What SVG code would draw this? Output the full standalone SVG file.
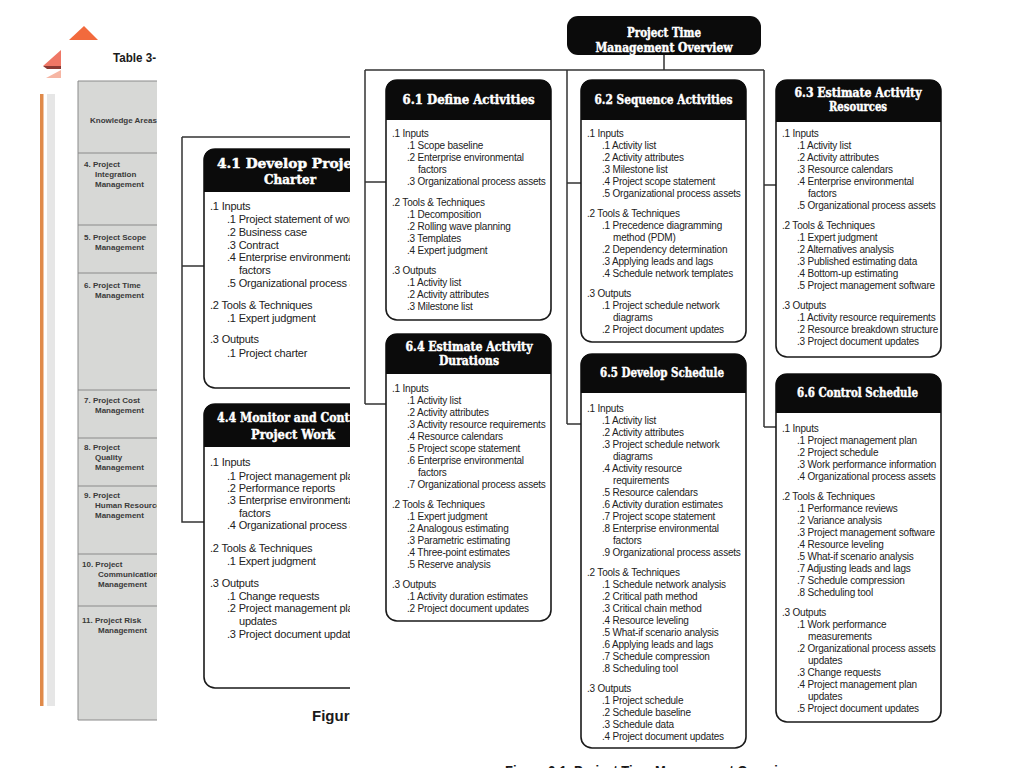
<svg xmlns="http://www.w3.org/2000/svg" width="1024" height="768" viewBox="0 0 1024 768">
<defs>
<style>
.bx{fill:#fff;stroke:#1a1a1a;stroke-width:1.6}
.hd{fill:#0b0b0b}
.ht{font-family:"DejaVu Serif","Liberation Serif",serif;font-weight:bold;font-size:12px;fill:#fff;stroke:#fff;stroke-width:0.45;text-anchor:middle}
.ht2{font-family:"DejaVu Serif","Liberation Serif",serif;font-weight:bold;font-size:13px;fill:#fff;stroke:#fff;stroke-width:0.45;text-anchor:middle}
.b{font-family:"Liberation Sans",Arial,sans-serif;font-size:10px;letter-spacing:-0.2px;fill:#222}
.b2{font-family:"Liberation Sans",Arial,sans-serif;font-size:11px;letter-spacing:-0.2px;fill:#222}
.c{stroke:#333;stroke-width:1.5;fill:none}
.tb{font-family:"Liberation Sans",Arial,sans-serif;font-weight:bold;font-size:8px;fill:#3a3a3a}
.cell{fill:#d7d8d6}
.sep{stroke:#8a8a8a;stroke-width:1}
.cap{font-family:"Liberation Sans",Arial,sans-serif;font-weight:bold;fill:#1a1a1a}
</style>
<clipPath id="clipT"><rect x="0" y="0" width="157" height="768"/></clipPath>
<clipPath id="clipL2"><rect x="157" y="0" width="193" height="768"/></clipPath>
</defs>
<rect width="1024" height="768" fill="#fff"/>

<!-- background layer 1: table -->
<g id="layer-table">
<polygon points="69,40 98,40 84,26" fill="#f26a3d"/>
<polygon points="43,66 61,50 61,66" fill="#ef7766"/>
<polygon points="43,66 61,66 61,69 47,69" fill="#8a3a34"/>
<polygon points="46,78 61,70 61,78" fill="#f6b6a4"/>
<rect x="40" y="94" width="3.5" height="612" fill="#e08a4a"/>
<rect x="47" y="94" width="8" height="612" fill="#e6e6e6"/>
<text x="113" y="62" class="cap" font-size="12.5" textLength="43" lengthAdjust="spacingAndGlyphs">Table 3-</text>
<g clip-path="url(#clipT)">
<rect x="78" y="81" width="90" height="639" class="cell"/>
<line x1="78" y1="81" x2="78" y2="720" class="sep"/>
<line x1="78" y1="81" x2="168" y2="81" class="sep"/>
<line x1="78" y1="153" x2="168" y2="153" class="sep"/>
<line x1="78" y1="225" x2="168" y2="225" class="sep"/>
<line x1="78" y1="273" x2="168" y2="273" class="sep"/>
<line x1="78" y1="390" x2="168" y2="390" class="sep"/>
<line x1="78" y1="438" x2="168" y2="438" class="sep"/>
<line x1="78" y1="486" x2="168" y2="486" class="sep"/>
<line x1="78" y1="554" x2="168" y2="554" class="sep"/>
<line x1="78" y1="606" x2="168" y2="606" class="sep"/>
<line x1="78" y1="720" x2="168" y2="720" class="sep"/>
<text class="tb" x="90" y="123">Knowledge Areas</text>
<text class="tb" x="84" y="167">4. Project</text>
<text class="tb" x="95" y="177">Integration</text>
<text class="tb" x="95" y="187">Management</text>
<text class="tb" x="84" y="240">5. Project Scope</text>
<text class="tb" x="95" y="250">Management</text>
<text class="tb" x="84" y="288">6. Project Time</text>
<text class="tb" x="95" y="298">Management</text>
<text class="tb" x="84" y="403">7. Project Cost</text>
<text class="tb" x="95" y="413">Management</text>
<text class="tb" x="84" y="450">8. Project</text>
<text class="tb" x="95" y="460">Quality</text>
<text class="tb" x="95" y="470">Management</text>
<text class="tb" x="84" y="498">9. Project</text>
<text class="tb" x="95" y="508">Human Resource</text>
<text class="tb" x="95" y="518">Management</text>
<text class="tb" x="82" y="567">10. Project</text>
<text class="tb" x="98" y="577">Communication</text>
<text class="tb" x="98" y="587">Management</text>
<text class="tb" x="82" y="623">11. Project Risk</text>
<text class="tb" x="98" y="633">Management</text>
</g>
</g>

<!-- layer 2: integration management -->
<g clip-path="url(#clipL2)">
<g id="connectors-integration">
<path class="c" d="M182,137 H360 M182,137 V522 H204 M182,266 H204"/>
</g>
<g id="n41">
<rect class="bx" x="204" y="149" width="176" height="239" rx="11"/>
<path class="hd" d="M204,192 V160 Q204,149 215,149 H369 Q380,149 380,160 V192 Z"/>
<text class="ht2" x="292" y="168" textLength="150" lengthAdjust="spacingAndGlyphs">4.1 Develop Project</text>
<text class="ht2" x="290" y="184" textLength="52" lengthAdjust="spacingAndGlyphs">Charter</text>
<text class="b2" x="210" y="210">.1 Inputs</text>
<text class="b2" x="227" y="223">.1 Project statement of work</text>
<text class="b2" x="227" y="236">.2 Business case</text>
<text class="b2" x="227" y="249">.3 Contract</text>
<text class="b2" x="227" y="261">.4 Enterprise environmental</text>
<text class="b2" x="239" y="274">factors</text>
<text class="b2" x="227" y="287">.5 Organizational process assets</text>
<text class="b2" x="210" y="309">.2 Tools &amp; Techniques</text>
<text class="b2" x="227" y="322">.1 Expert judgment</text>
<text class="b2" x="210" y="343">.3 Outputs</text>
<text class="b2" x="227" y="357">.1 Project charter</text>
</g>
<g id="n44">
<rect class="bx" x="204" y="404" width="176" height="284" rx="11"/>
<path class="hd" d="M204,447 V415 Q204,404 215,404 H369 Q380,404 380,415 V447 Z"/>
<text class="ht2" x="292" y="422" textLength="150" lengthAdjust="spacingAndGlyphs">4.4 Monitor and Control</text>
<text class="ht2" x="293" y="439" textLength="84" lengthAdjust="spacingAndGlyphs">Project Work</text>
<text class="b2" x="210" y="466">.1 Inputs</text>
<text class="b2" x="227" y="480">.1 Project management plan</text>
<text class="b2" x="227" y="492">.2 Performance reports</text>
<text class="b2" x="227" y="504">.3 Enterprise environmental</text>
<text class="b2" x="239" y="517">factors</text>
<text class="b2" x="227" y="529">.4 Organizational process assets</text>
<text class="b2" x="210" y="552">.2 Tools &amp; Techniques</text>
<text class="b2" x="227" y="565">.1 Expert judgment</text>
<text class="b2" x="210" y="587">.3 Outputs</text>
<text class="b2" x="227" y="600">.1 Change requests</text>
<text class="b2" x="227" y="612">.2 Project management plan</text>
<text class="b2" x="239" y="625">updates</text>
<text class="b2" x="227" y="638">.3 Project document updates</text>
</g>
<text class="cap" x="312" y="721" font-size="15">Figure 4-1. Project Integration Management Overview</text>
</g>

<!-- main layer: time management -->
<g id="connectors">
<path class="c" d="M664,55 V70 M365,70 H764 M365,70 V404 M365,182 H386 M365,404 H386 M567,70 V424 M567,183 H581 M567,424 H581 M764,70 V427 M764,185 H776 M764,427 H776"/>
</g>

<g id="title">
<rect x="567" y="16" width="194" height="39" rx="11" fill="#0b0b0b"/>
<text class="ht" x="664" y="37" textLength="74" lengthAdjust="spacingAndGlyphs">Project Time</text>
<text class="ht" x="664" y="52" textLength="137" lengthAdjust="spacingAndGlyphs">Management Overview</text>
</g>

<g id="n61">
<rect class="bx" x="386" y="80" width="165" height="240" rx="11"/>
<path class="hd" d="M386,120 V91 Q386,80 397,80 H540 Q551,80 551,91 V120 Z"/>
<text class="ht" x="468.5" y="104" textLength="132" lengthAdjust="spacingAndGlyphs">6.1 Define Activities</text>
<text class="b" x="392" y="137">.1 Inputs</text>
<text class="b" x="407" y="149">.1 Scope baseline</text>
<text class="b" x="407" y="161">.2 Enterprise environmental</text>
<text class="b" x="418" y="173">factors</text>
<text class="b" x="407" y="185">.3 Organizational process assets</text>
<text class="b" x="392" y="206">.2 Tools &amp; Techniques</text>
<text class="b" x="407" y="218">.1 Decomposition</text>
<text class="b" x="407" y="230">.2 Rolling wave planning</text>
<text class="b" x="407" y="242">.3 Templates</text>
<text class="b" x="407" y="254">.4 Expert judgment</text>
<text class="b" x="392" y="274">.3 Outputs</text>
<text class="b" x="407" y="286">.1 Activity list</text>
<text class="b" x="407" y="298">.2 Activity attributes</text>
<text class="b" x="407" y="310">.3 Milestone list</text>
</g>

<g id="n62">
<rect class="bx" x="581" y="80" width="165" height="262" rx="11"/>
<path class="hd" d="M581,120 V91 Q581,80 592,80 H735 Q746,80 746,91 V120 Z"/>
<text class="ht" x="663.5" y="104" textLength="138" lengthAdjust="spacingAndGlyphs">6.2 Sequence Activities</text>
<text class="b" x="587" y="137">.1 Inputs</text>
<text class="b" x="602" y="149">.1 Activity list</text>
<text class="b" x="602" y="161">.2 Activity attributes</text>
<text class="b" x="602" y="173">.3 Milestone list</text>
<text class="b" x="602" y="185">.4 Project scope statement</text>
<text class="b" x="602" y="197">.5 Organizational process assets</text>
<text class="b" x="587" y="217">.2 Tools &amp; Techniques</text>
<text class="b" x="602" y="229">.1 Precedence diagramming</text>
<text class="b" x="613" y="241">method (PDM)</text>
<text class="b" x="602" y="253">.2 Dependency determination</text>
<text class="b" x="602" y="265">.3 Applying leads and lags</text>
<text class="b" x="602" y="277">.4 Schedule network templates</text>
<text class="b" x="587" y="297">.3 Outputs</text>
<text class="b" x="602" y="309">.1 Project schedule network</text>
<text class="b" x="613" y="321">diagrams</text>
<text class="b" x="602" y="333">.2 Project document updates</text>
</g>

<g id="n63">
<rect class="bx" x="776" y="80" width="165" height="277" rx="11"/>
<path class="hd" d="M776,122 V91 Q776,80 787,80 H930 Q941,80 941,91 V122 Z"/>
<text class="ht" x="858" y="97" textLength="127" lengthAdjust="spacingAndGlyphs">6.3 Estimate Activity</text>
<text class="ht" x="858" y="111" textLength="58" lengthAdjust="spacingAndGlyphs">Resources</text>
<text class="b" x="782" y="137">.1 Inputs</text>
<text class="b" x="797" y="149">.1 Activity list</text>
<text class="b" x="797" y="161">.2 Activity attributes</text>
<text class="b" x="797" y="173">.3 Resource calendars</text>
<text class="b" x="797" y="185">.4 Enterprise environmental</text>
<text class="b" x="808" y="197">factors</text>
<text class="b" x="797" y="209">.5 Organizational process assets</text>
<text class="b" x="782" y="229">.2 Tools &amp; Techniques</text>
<text class="b" x="797" y="241">.1 Expert judgment</text>
<text class="b" x="797" y="253">.2 Alternatives analysis</text>
<text class="b" x="797" y="265">.3 Published estimating data</text>
<text class="b" x="797" y="277">.4 Bottom-up estimating</text>
<text class="b" x="797" y="289">.5 Project management software</text>
<text class="b" x="782" y="309">.3 Outputs</text>
<text class="b" x="797" y="321">.1 Activity resource requirements</text>
<text class="b" x="797" y="333">.2 Resource breakdown structure</text>
<text class="b" x="797" y="345">.3 Project document updates</text>
</g>

<g id="n64">
<rect class="bx" x="386" y="334" width="165" height="287" rx="11"/>
<path class="hd" d="M386,374 V345 Q386,334 397,334 H540 Q551,334 551,345 V374 Z"/>
<text class="ht" x="469" y="351" textLength="127" lengthAdjust="spacingAndGlyphs">6.4 Estimate Activity</text>
<text class="ht" x="469" y="365" textLength="60" lengthAdjust="spacingAndGlyphs">Durations</text>
<text class="b" x="392" y="392">.1 Inputs</text>
<text class="b" x="407" y="404">.1 Activity list</text>
<text class="b" x="407" y="416">.2 Activity attributes</text>
<text class="b" x="407" y="428">.3 Activity resource requirements</text>
<text class="b" x="407" y="440">.4 Resource calendars</text>
<text class="b" x="407" y="452">.5 Project scope statement</text>
<text class="b" x="407" y="464">.6 Enterprise environmental</text>
<text class="b" x="418" y="476">factors</text>
<text class="b" x="407" y="488">.7 Organizational process assets</text>
<text class="b" x="392" y="508">.2 Tools &amp; Techniques</text>
<text class="b" x="407" y="520">.1 Expert judgment</text>
<text class="b" x="407" y="532">.2 Analogous estimating</text>
<text class="b" x="407" y="544">.3 Parametric estimating</text>
<text class="b" x="407" y="556">.4 Three-point estimates</text>
<text class="b" x="407" y="568">.5 Reserve analysis</text>
<text class="b" x="392" y="588">.3 Outputs</text>
<text class="b" x="407" y="600">.1 Activity duration estimates</text>
<text class="b" x="407" y="612">.2 Project document updates</text>
</g>

<g id="n65">
<rect class="bx" x="581" y="354" width="165" height="394" rx="11"/>
<path class="hd" d="M581,393 V365 Q581,354 592,354 H735 Q746,354 746,365 V393 Z"/>
<text class="ht" x="662" y="377" textLength="124" lengthAdjust="spacingAndGlyphs">6.5 Develop Schedule</text>
<text class="b" x="587" y="412">.1 Inputs</text>
<text class="b" x="602" y="424">.1 Activity list</text>
<text class="b" x="602" y="436">.2 Activity attributes</text>
<text class="b" x="602" y="448">.3 Project schedule network</text>
<text class="b" x="613" y="460">diagrams</text>
<text class="b" x="602" y="472">.4 Activity resource</text>
<text class="b" x="613" y="484">requirements</text>
<text class="b" x="602" y="496">.5 Resource calendars</text>
<text class="b" x="602" y="508">.6 Activity duration estimates</text>
<text class="b" x="602" y="520">.7 Project scope statement</text>
<text class="b" x="602" y="532">.8 Enterprise environmental</text>
<text class="b" x="613" y="544">factors</text>
<text class="b" x="602" y="556">.9 Organizational process assets</text>
<text class="b" x="587" y="576">.2 Tools &amp; Techniques</text>
<text class="b" x="602" y="588">.1 Schedule network analysis</text>
<text class="b" x="602" y="600">.2 Critical path method</text>
<text class="b" x="602" y="612">.3 Critical chain method</text>
<text class="b" x="602" y="624">.4 Resource leveling</text>
<text class="b" x="602" y="636">.5 What-if scenario analysis</text>
<text class="b" x="602" y="648">.6 Applying leads and lags</text>
<text class="b" x="602" y="660">.7 Schedule compression</text>
<text class="b" x="602" y="672">.8 Scheduling tool</text>
<text class="b" x="587" y="692">.3 Outputs</text>
<text class="b" x="602" y="704">.1 Project schedule</text>
<text class="b" x="602" y="716">.2 Schedule baseline</text>
<text class="b" x="602" y="728">.3 Schedule data</text>
<text class="b" x="602" y="740">.4 Project document updates</text>
</g>

<g id="n66">
<rect class="bx" x="776" y="374" width="165" height="348" rx="11"/>
<path class="hd" d="M776,413 V385 Q776,374 787,374 H930 Q941,374 941,385 V413 Z"/>
<text class="ht" x="857.5" y="397" textLength="121" lengthAdjust="spacingAndGlyphs">6.6 Control Schedule</text>
<text class="b" x="782" y="432">.1 Inputs</text>
<text class="b" x="797" y="444">.1 Project management plan</text>
<text class="b" x="797" y="456">.2 Project schedule</text>
<text class="b" x="797" y="468">.3 Work performance information</text>
<text class="b" x="797" y="480">.4 Organizational process assets</text>
<text class="b" x="782" y="500">.2 Tools &amp; Techniques</text>
<text class="b" x="797" y="512">.1 Performance reviews</text>
<text class="b" x="797" y="524">.2 Variance analysis</text>
<text class="b" x="797" y="536">.3 Project management software</text>
<text class="b" x="797" y="548">.4 Resource leveling</text>
<text class="b" x="797" y="560">.5 What-if scenario analysis</text>
<text class="b" x="797" y="572">.7 Adjusting leads and lags</text>
<text class="b" x="797" y="584">.7 Schedule compression</text>
<text class="b" x="797" y="596">.8 Scheduling tool</text>
<text class="b" x="782" y="616">.3 Outputs</text>
<text class="b" x="797" y="628">.1 Work performance</text>
<text class="b" x="808" y="640">measurements</text>
<text class="b" x="797" y="652">.2 Organizational process assets</text>
<text class="b" x="808" y="664">updates</text>
<text class="b" x="797" y="676">.3 Change requests</text>
<text class="b" x="797" y="688">.4 Project management plan</text>
<text class="b" x="808" y="700">updates</text>
<text class="b" x="797" y="712">.5 Project document updates</text>
</g>

<text class="cap" x="505" y="776" font-size="14" textLength="290" lengthAdjust="spacingAndGlyphs">Figure 6-1. Project Time Management Overview</text>
</svg>
